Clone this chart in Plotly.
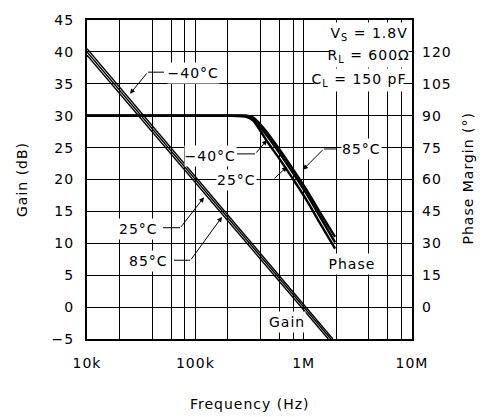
import plotly.graph_objects as go

# ---------------- data ----------------
freq_ticks = [1e4, 1e5, 1e6, 1e7]
freq_tick_labels = ["10k", "100k", "1M", "10M"]
minor_freqs = [2e4, 4e4, 6e4, 8e4, 2e5, 4e5, 6e5, 8e5, 2e6, 4e6, 6e6, 8e6]
gain_ticks = [-5, 0, 5, 10, 15, 20, 25, 30, 35, 40, 45]
phase_ticks = [0, 15, 30, 45, 60, 75, 90, 105, 120]

gain_freq_m40 = [1e4, 1e5, 1e6, 1.86e6]
gain_m40 = [40.5, 20.5, 0.5, -5.0]
gain_freq_25 = [1e4, 1e5, 1e6, 1.78e6]
gain_25 = [40.0, 20.0, 0.0, -5.0]
gain_freq_85 = [1e4, 1e5, 1e6, 1.69e6]
gain_85 = [39.5, 19.5, -0.5, -5.0]

phase_freq = [1e4, 1e5, 2e5, 3e5, 3.4e5, 3.9e5, 4.56e5, 6.0e5, 7.93e5, 1.067e6, 1.4e6, 1.95e6]
phase_m40 = [90, 90, 90, 89.4, 87.8, 83.6, 78.2, 69.6, 60.4, 50.2, 39.8, 27.5]
phase_25 = [90, 90, 90, 89.8, 88.7, 85.2, 80.8, 72.3, 63.2, 53.1, 42.9, 30.4]
phase_85 = [90, 90, 90, 90, 89.3, 86.4, 82.3, 74.0, 65.0, 55.0, 44.9, 33.0]

# ---------------- figure ----------------
FONT = "DejaVu Sans"
FS = 14
L, R, T, B = 87, 412, 15, 339
W, H = 483, 417


def P(x, y):
    return (x - L) / (R - L), (B - y) / (B - T)


fig = go.Figure()
for fx, gy in [(gain_freq_m40, gain_m40), (gain_freq_25, gain_25), (gain_freq_85, gain_85)]:
    fig.add_trace(go.Scatter(x=fx, y=gy, mode="lines", line=dict(color="black", width=1.4),
                             showlegend=False, hoverinfo="skip"))
for py in [phase_m40, phase_25, phase_85]:
    fig.add_trace(go.Scatter(x=phase_freq, y=py, yaxis="y2", mode="lines",
                             line=dict(color="black", width=2.4, shape="spline", smoothing=0.8),
                             showlegend=False, hoverinfo="skip"))

annotations = []
shapes = []


def text_ann(s, x, y, xanchor="center"):
    px, py = P(x, y)
    annotations.append(dict(text=s, xref="paper", yref="paper", x=px, y=py, showarrow=False,
                            xanchor=xanchor, yanchor="middle", bgcolor="white", borderpad=2,
                            font=dict(family=FONT, size=FS, color="black")))


def leader(x0, y0, x1, y1, tipx, tipy):
    a, b = P(x0, y0)
    c, d = P(x1, y1)
    shapes.append(dict(type="line", xref="paper", yref="paper", x0=a, y0=b, x1=c, y1=d,
                       line=dict(color="black", width=1)))
    tx, ty = P(tipx, tipy)
    annotations.append(dict(text="", xref="paper", yref="paper", x=tx, y=ty, showarrow=True,
                            ax=x1 - tipx, ay=y1 - tipy, axref="pixel", ayref="pixel",
                            arrowhead=2, arrowsize=1, arrowwidth=1, arrowcolor="black",
                            standoff=0, startstandoff=0))


# temperature labels
text_ann("\u221240\u00b0C", 193, 69)
leader(164, 68, 148, 68, 130, 90)
text_ann("\u221240\u00b0C", 210, 153)
leader(237, 151, 255, 151, 267, 137)
text_ann("25\u00b0C", 236, 178)
leader(261, 177, 273, 177, 287, 164)
text_ann("85\u00b0C", 361, 146)
leader(336, 146, 324, 146, 303, 167)
text_ann("25\u00b0C", 138, 227)
leader(163, 226, 180, 226, 204, 195)
text_ann("85\u00b0C", 148, 260)
leader(174, 259, 190, 259, 222, 215)
text_ann("Phase", 352, 263)
text_ann("Gain", 287, 322)

# conditions
text_ann("V<sub>S</sub> = 1.8V", 407, 29, xanchor="right")
text_ann("R<sub>L</sub> = 600\u03a9", 409, 52, xanchor="right")
text_ann("C<sub>L</sub> = 150 pF", 404, 76, xanchor="right")

# axis titles
for s, x, y, ang in [("Gain (dB)", 21, 177, -90), ("Phase Margin (\u00b0)", 468, 176, -90),
                     ("Frequency (Hz)", 250, 405, 0)]:
    px, py = P(x, y)
    annotations.append(dict(text=s, xref="paper", yref="paper", x=px, y=py, showarrow=False,
                            textangle=ang, xanchor="center", yanchor="middle",
                            font=dict(family=FONT, size=FS, color="black")))

fig.update_layout(
    width=W, height=H,
    margin=dict(l=L, r=W - R, t=T, b=H - B, pad=0),
    paper_bgcolor="white", plot_bgcolor="white",
    font=dict(family=FONT, size=FS, color="black"),
    showlegend=False,
    xaxis=dict(type="log", range=[4, 7], tickmode="array", tickvals=freq_ticks,
               ticktext=freq_tick_labels, showgrid=True, gridcolor="black", gridwidth=1,
               minor=dict(tickmode="array", tickvals=minor_freqs, showgrid=True,
                          gridcolor="black", gridwidth=1, ticks=""),
               showline=True, linecolor="black", linewidth=2, mirror=True,
               ticks="", zeroline=False, ticklabelstandoff=10,
               tickfont=dict(family=FONT, size=FS, color="black")),
    yaxis=dict(range=[-5, 45], tickmode="array", tickvals=gain_ticks, showgrid=True,
               gridcolor="black", gridwidth=1, showline=True, linecolor="black",
               linewidth=2, mirror=True, ticks="", zeroline=False, ticklabelstandoff=8,
               tickfont=dict(family=FONT, size=FS, color="black")),
    yaxis2=dict(range=[-15, 135], overlaying="y", side="right", tickmode="array",
                tickvals=phase_ticks, showgrid=False, zeroline=False, showline=False,
                ticks="", ticklabelstandoff=9,
                tickfont=dict(family=FONT, size=FS, color="black")),
    annotations=annotations,
    shapes=shapes,
)

fig.write_html(
    "out.html", config={"displayModeBar": False},
    post_script=("document.body.style.margin='0';document.body.style.padding='0';"
                 "document.querySelectorAll('svg text').forEach(function(t){"
                 "t.style.letterSpacing='1px';});"))
